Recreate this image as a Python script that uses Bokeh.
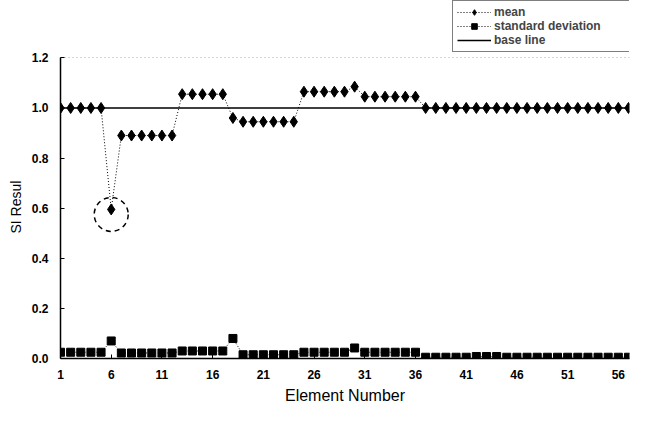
from bokeh.plotting import figure
from bokeh.models import (FixedTicker, Legend, LegendItem, PrintfTickFormatter,
                          Range1d, ColumnDataSource, Title)
from bokeh.embed import file_html
from bokeh.resources import INLINE

elements = list(range(1, 58))
mean = [1.0, 1.0, 1.0, 1.0, 1.0,
        0.595,
        0.89, 0.89, 0.89, 0.89, 0.89, 0.89,
        1.055, 1.055, 1.055, 1.055, 1.055,
        0.96,
        0.945, 0.945, 0.945, 0.945, 0.945, 0.945,
        1.065, 1.065, 1.065, 1.065, 1.065,
        1.085,
        1.045, 1.045, 1.045, 1.045, 1.045, 1.045,
        1.0, 1.0, 1.0, 1.0, 1.0, 1.0, 1.0, 1.0, 1.0, 1.0,
        1.0, 1.0, 1.0, 1.0, 1.0, 1.0, 1.0, 1.0, 1.0, 1.0, 1.0]
std_dev = [0.025, 0.025, 0.025, 0.025, 0.025,
           0.07,
           0.022, 0.022, 0.022, 0.022, 0.022, 0.022,
           0.03, 0.03, 0.03, 0.03, 0.03,
           0.08,
           0.015, 0.015, 0.015, 0.015, 0.015, 0.015,
           0.025, 0.025, 0.025, 0.025, 0.025,
           0.042,
           0.025, 0.025, 0.025, 0.025, 0.025, 0.025,
           0.005, 0.005, 0.005, 0.005, 0.005, 0.008, 0.008, 0.008, 0.005, 0.005,
           0.005, 0.005, 0.005, 0.005, 0.005, 0.005, 0.005, 0.005, 0.005, 0.005, 0.005]
base_line = [1.0] * 57
x_ticks = [1, 6, 11, 16, 21, 26, 31, 36, 41, 46, 51, 56]
y_ticks = [0.0, 0.2, 0.4, 0.6, 0.8, 1.0, 1.2]
outlier_x = [6]
outlier_y = [0.575]

src = ColumnDataSource(dict(x=elements, mean=mean, std=std_dev, base=base_line))

p = figure(width=630, height=406, x_range=Range1d(1, 57.1), y_range=Range1d(0, 1.429),
           output_backend="svg", toolbar_location=None,
           min_border_left=60, min_border_right=1, min_border_top=0, min_border_bottom=44)
p.outline_line_color = None
p.background_fill_color = "white"
p.border_fill_color = "white"

FONT = "Liberation Sans"

# axes
p.xaxis.ticker = FixedTicker(ticks=x_ticks)
p.yaxis.ticker = FixedTicker(ticks=y_ticks)
p.yaxis.formatter = PrintfTickFormatter(format="%.1f")
p.yaxis.bounds = (0, 1.2)
for ax in (p.xaxis[0], p.yaxis[0]):
    ax.axis_line_color = "black"
    ax.axis_line_width = 1.5
    ax.major_tick_line_color = "black"
    ax.major_tick_in = 4
    ax.major_tick_out = 0
    ax.minor_tick_line_color = None
    ax.major_label_text_font = FONT
    ax.major_label_text_font_style = "bold"
    ax.major_label_text_font_size = "12px"
    ax.major_label_text_color = "black"
    ax.axis_label_text_font = FONT
    ax.axis_label_text_font_style = "normal"
    ax.axis_label_text_color = "black"
p.xaxis.major_label_standoff = 11
p.yaxis.major_label_standoff = 12
p.xaxis.axis_label = "Element Number"
p.xaxis.axis_label_text_font_size = "16px"
p.xaxis.axis_label_standoff = 5

# y-axis title, centred on the 0..1.2 span rather than the whole frame
ytitle = Title(text="SI Resul", align="left", offset=125,
               text_font=FONT, text_font_size="14px", text_font_style="normal",
               text_color="black")
p.add_layout(ytitle, "left")

p.xgrid.grid_line_color = None
p.ygrid.ticker = FixedTicker(ticks=[1.2])
p.ygrid.grid_line_color = "#aaaaaa"
p.ygrid.grid_line_dash = "1 3"

# series
base_r = p.line("x", "base", source=src, line_color="black", line_width=1.5)
mean_l = p.line("x", "mean", source=src, line_color="black", line_width=1, line_dash="1 2")
mean_m = p.scatter("x", "mean", source=src, marker="diamond", size=11,
                   fill_color="black", line_color="black")
std_l = p.line("x", "std", source=src, line_color="black", line_width=1, line_dash="1 2")
std_m = p.scatter("x", "std", source=src, marker="square", size=8,
                  fill_color="black", line_color="black")

# dashed circle highlighting the outlier
p.scatter(outlier_x, outlier_y, marker="circle", size=34, fill_color=None,
          line_color="black", line_width=1.5, line_dash="5 4")

legend = Legend(items=[
    LegendItem(label="mean", renderers=[mean_l, mean_m]),
    LegendItem(label="standard deviation", renderers=[std_l, std_m]),
    LegendItem(label="base line", renderers=[base_r]),
], location=(392, 306))
legend.border_line_color = "black"
legend.border_line_width = 1
legend.background_fill_color = "white"
legend.background_fill_alpha = 1
legend.label_text_font = FONT
legend.label_text_font_style = "bold"
legend.label_text_font_size = "12px"
legend.glyph_width = 34
legend.glyph_height = 14
legend.label_height = 14
legend.label_standoff = 3
legend.label_width = 140
legend.spacing = 0
legend.padding = 4
legend.margin = 0
p.add_layout(legend)

open("out.html", "w").write(file_html(p, INLINE))
